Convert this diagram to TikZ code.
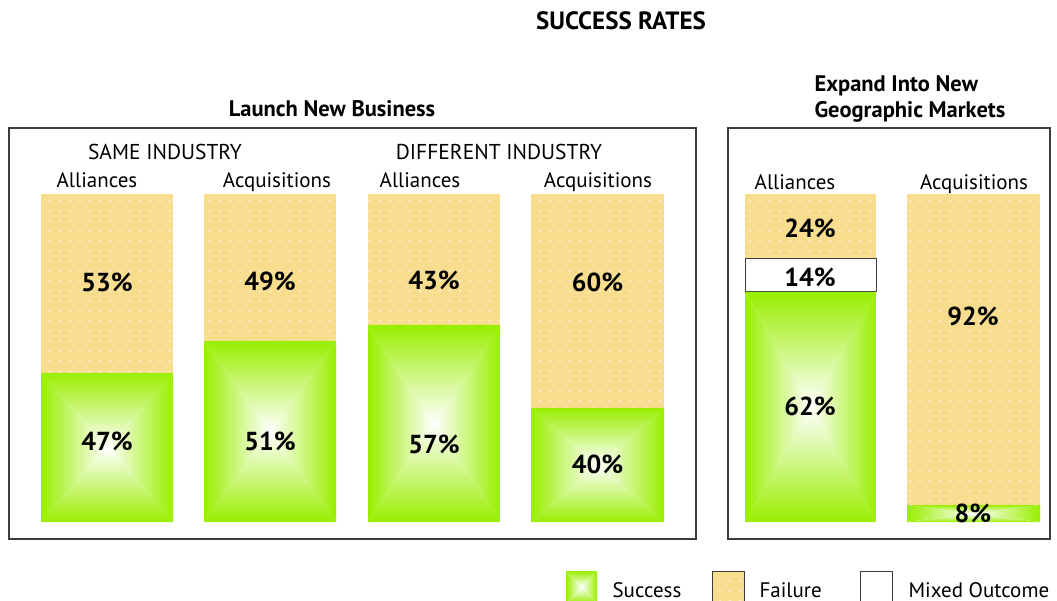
\documentclass[tikz,border=0pt]{standalone}
\usepackage{fontspec}
\setmainfont{PT Sans}
\usetikzlibrary{patterns.meta}

\definecolor{succgreen}{RGB}{153,238,0}
\definecolor{failtan}{RGB}{249,221,142}
\definecolor{framegray}{RGB}{60,60,60}

\newcommand{\greenbar}[4]{%
  \shade[left color=succgreen,right color=white] (#1,#2) -- ({(#1+#3)/2},{(#2+#4)/2}) -- (#1,#4) -- cycle;
  \shade[right color=succgreen,left color=white] (#3,#2) -- ({(#1+#3)/2},{(#2+#4)/2}) -- (#3,#4) -- cycle;
  \shade[top color=succgreen,bottom color=white] (#1,#2) -- ({(#1+#3)/2},{(#2+#4)/2}) -- (#3,#2) -- cycle;
  \shade[bottom color=succgreen,top color=white] (#1,#4) -- ({(#1+#3)/2},{(#2+#4)/2}) -- (#3,#4) -- cycle;
}
\newcommand{\failbar}[4]{%
  \fill[failtan] (#1,#2) rectangle (#3,#4);
  \fill[pattern={Dots[distance=10pt,radius=0.9pt]},pattern color=white] (#1,#2) rectangle (#3,#4);
}

\begin{document}
\begin{tikzpicture}[x=1pt,y=-1pt,
    title/.style={font=\bfseries\fontsize{25}{30}\selectfont},
    head/.style={font=\bfseries\fontsize{22.5}{26}\selectfont},
    group/.style={font=\fontsize{21.5}{25}\selectfont},
    kind/.style={font=\fontsize{21}{25}\selectfont},
    pct/.style={font=\bfseries\fontsize{26}{30}\selectfont},
    frame/.style={draw=framegray,line width=1.3pt}
    ]
    \useasboundingbox (0,0) rectangle (1057,601);

    \node[title] (title) at (621,21) {SUCCESS RATES};
    \node[head] (launch) at (332,109) {Launch New Business};
    \node[head,align=left,anchor=west] (expand) at (811,99) {Expand Into New\\Geographic Markets};

    \draw[frame] (9,128) rectangle (696,539);
    \draw[frame] (728,128) rectangle (1050,539);

    \node[group] (same) at (165,152) {SAME INDUSTRY};
    \node[group] (diff) at (499,152) {DIFFERENT INDUSTRY};

    \foreach \xa/\xb/\xl/\ys/\f/\yf/\s/\yl/\nm/\lab in {%
      41/173/97/373/53/282/47/441/sa/Alliances,
      204/336/277/341/49/281/51/441/sq/Acquisitions,
      368/500/420/325/43/280/57/444/da/Alliances,
      531/664/598/408/60/282/40/464/dq/Acquisitions} {
      \failbar{\xa}{194}{\xb}{\ys}
      \greenbar{\xa}{\ys}{\xb}{522}
      \node[kind,anchor=base] (\nm-lab) at (\xl,188) {\lab};
      \node[pct] (\nm-fail) at ({(\xa+\xb)/2},\yf) {\f\%};
      \node[pct] (\nm-succ) at ({(\xa+\xb)/2},\yl) {\s\%};
    }

    \failbar{745}{194}{876}{259}
    \draw[framegray,line width=1pt,fill=white] (745,259) rectangle (876,292);
    \greenbar{745}{292}{876}{522}
    \failbar{907}{194}{1040}{505}
    \greenbar{907}{505}{1040}{522}

    \node[kind,anchor=base] (ga-lab) at (795,190) {Alliances};
    \node[kind,anchor=base] (gq-lab) at (974,190) {Acquisitions};
    \node[pct] (ga-fail) at (810,228) {24\%};
    \node[pct] (ga-mix) at (810,277) {14\%};
    \node[pct] (ga-succ) at (810,406) {62\%};
    \node[pct] (gq-fail) at (973,316) {92\%};
    \node[pct] (gq-succ) at (973,513) {8\%};

    \greenbar{566}{571}{597}{603}
    \failbar{712}{571}{744}{603}
    \draw[framegray,line width=1pt] (712,571) rectangle (744,603);
    \draw[framegray,line width=1pt] (860,571) rectangle (892,603);
    \node[kind,anchor=base west] (key-s) at (609,597) {Success};
    \node[kind,anchor=base west] (key-f) at (756,597) {Failure};
    \node[kind,anchor=base west] (key-m) at (905,597) {Mixed Outcome};
  \end{tikzpicture}
\end{document}
